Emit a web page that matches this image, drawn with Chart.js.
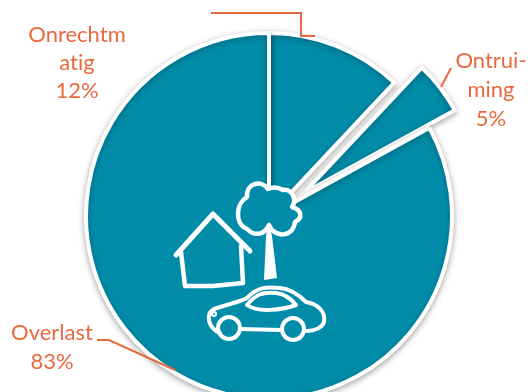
<!DOCTYPE html>
<html>
<head>
<meta charset="utf-8">
<style>
  html, body { margin: 0; padding: 0; background: #fff; overflow: hidden; }
  #wrap { position: relative; width: 528px; height: 392px; }
</style>
<script src="https://cdn.jsdelivr.net/npm/chart.js@4"></script>
</head>
<body>
<div id="wrap"><canvas id="pie" width="528" height="392"></canvas></div>
<script>
const categories = ["Onrechtmatig", "Ontruiming", "Overlast"];
const values = [12, 5, 83];
const labelLines = [["Onrechtm", "atig"], ["Ontrui-", "ming"], ["Overlast"]];

const teal = "#008CA9";
const orange = "#E9693F";

// pulls the "Ontruiming" slice out of the pie
const explodeSlice = {
    id: "explodeSlice",
    afterDatasetsUpdate(chart) {
        const arc = chart.getDatasetMeta(0).data[1];
        arc.x += 35;
        arc.y -= 23;
        arc.outerRadius = 172;
    },
};

// soft shadow below the slices
const sliceShadow = {
    id: "sliceShadow",
    beforeDatasetsDraw(chart) {
        const ctx = chart.ctx;
        ctx.save();
        ctx.shadowColor = "rgba(0,0,0,0.3)";
        ctx.shadowBlur = 6;
        ctx.shadowOffsetX = 0;
        ctx.shadowOffsetY = 2;
    },
    afterDatasetsDraw(chart) {
        chart.ctx.restore();
    },
};

function strokePath(ctx, points, width) {
    ctx.lineWidth = width;
    ctx.beginPath();
    points.forEach((p, i) => {
        if (i === 0) ctx.moveTo(p[0], p[1]);
        else ctx.lineTo(p[0], p[1]);
    });
    ctx.stroke();
}

function drawHouse(ctx) {
    strokePath(ctx, [[176, 255], [213, 214], [250, 251]], 5);
    strokePath(ctx, [[181, 252], [185, 286], [213, 286], [243, 283], [241, 246]], 4.5);
}

function drawTree(ctx) {
    // crown is filled so the slice edges stop at its outline
    ctx.lineWidth = 4.5;
    ctx.fillStyle = teal;
    ctx.beginPath();
    ctx.moveTo(268, 189);
    ctx.bezierCurveTo(262, 180, 246, 182, 247, 197);
    ctx.bezierCurveTo(236, 203, 234, 224, 247, 229);
    ctx.bezierCurveTo(254, 236, 264, 236, 269, 225);
    ctx.bezierCurveTo(274, 238, 293, 238, 295, 222);
    ctx.bezierCurveTo(303, 218, 302, 210, 292, 207);
    ctx.bezierCurveTo(298, 198, 290, 188, 283, 190);
    ctx.bezierCurveTo(278, 187, 272, 187, 268, 189);
    ctx.fill();
    ctx.stroke();
    ctx.fillStyle = "#fff";
    ctx.beginPath();
    ctx.moveTo(269, 222);
    ctx.lineTo(266, 236);
    ctx.lineTo(264, 280);
    ctx.lineTo(277, 278);
    ctx.lineTo(272, 236);
    ctx.closePath();
    ctx.fill();
}

function drawCar(ctx) {
    ctx.lineWidth = 4;
    ctx.beginPath();
    ctx.moveTo(220, 333);
    ctx.bezierCurveTo(208, 328, 205, 314, 214, 309);
    ctx.bezierCurveTo(228, 304, 240, 302, 247, 298);
    ctx.bezierCurveTo(258, 286, 268, 287, 280, 288);
    ctx.bezierCurveTo(292, 289, 300, 296, 306, 302);
    ctx.bezierCurveTo(318, 304, 326, 312, 324, 322);
    ctx.bezierCurveTo(322, 328, 314, 331, 307, 331);
    ctx.stroke();
    ctx.beginPath();
    ctx.moveTo(240, 329);
    ctx.lineTo(281, 330);
    ctx.stroke();
    ctx.beginPath();
    ctx.moveTo(247, 305);
    ctx.bezierCurveTo(256, 294, 262, 292, 276, 293);
    ctx.bezierCurveTo(286, 294, 292, 300, 296, 305);
    ctx.bezierCurveTo(282, 310, 258, 313, 247, 305);
    ctx.stroke();
    ctx.beginPath();
    ctx.arc(229, 328, 11, 0, Math.PI * 2);
    ctx.stroke();
    ctx.beginPath();
    ctx.arc(293, 329, 11, 0, Math.PI * 2);
    ctx.stroke();
    ctx.lineWidth = 2;
    ctx.beginPath();
    ctx.arc(214, 314, 2, 0, Math.PI * 2);
    ctx.stroke();
}

// white line drawings in the middle of the pie
const icons = {
    id: "icons",
    afterDatasetsDraw(chart) {
        const ctx = chart.ctx;
        ctx.save();
        ctx.strokeStyle = "#fff";
        ctx.fillStyle = "#fff";
        ctx.lineCap = "round";
        ctx.lineJoin = "round";
        drawHouse(ctx);
        drawTree(ctx);
        drawCar(ctx);
        ctx.restore();
    },
};

// category labels and their leader lines
const callouts = {
    id: "callouts",
    afterDraw(chart) {
        const ctx = chart.ctx;
        ctx.save();
        ctx.strokeStyle = orange;
        ctx.lineJoin = "miter";
        strokePath(ctx, [[211, 13], [301, 13], [301, 36], [315, 36]], 2);
        strokePath(ctx, [[451, 68], [441, 87]], 2);
        strokePath(ctx, [[97, 340], [109, 340], [175, 370]], 2);

        ctx.fillStyle = orange;
        ctx.font = '22px Lato, "Open Sans", sans-serif';
        ctx.textRendering = "optimizeSpeed";
        ctx.textAlign = "center";
        ctx.textBaseline = "alphabetic";
        const anchors = [[77, 42, 28], [491, 68, 29], [52, 340, 29]];
        categories.forEach((name, i) => {
            const lines = labelLines[i].concat(values[i] + "%");
            lines.forEach((line, k) => {
                ctx.fillText(line, anchors[i][0], anchors[i][1] + k * anchors[i][2]);
            });
        });
        ctx.restore();
    },
};

new Chart(document.getElementById("pie"), {
    type: "pie",
    data: {
        labels: categories,
        datasets: [
            {
                data: values,
                backgroundColor: teal,
                borderColor: "#fff",
                borderWidth: 4,
                borderJoinStyle: "miter",
            },
        ],
    },
    options: {
        responsive: false,
        animation: false,
        radius: 183,
        layout: { padding: { top: 40, left: 10 } },
        plugins: {
            legend: { display: false },
            tooltip: { enabled: false },
        },
    },
    plugins: [explodeSlice, sliceShadow, icons, callouts],
});
</script>
</body>
</html>
